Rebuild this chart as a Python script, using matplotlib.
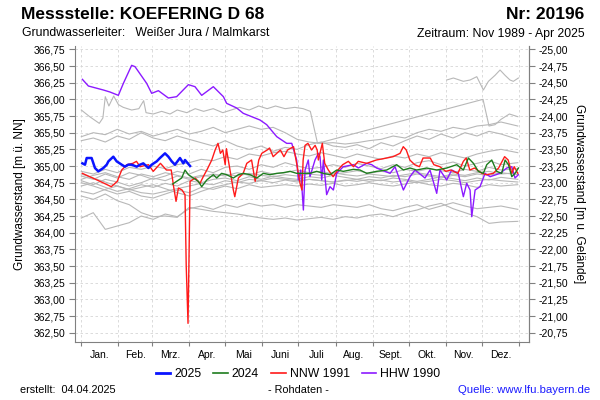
import matplotlib
matplotlib.use("Agg")
import matplotlib.pyplot as plt
from matplotlib.lines import Line2D
from matplotlib.ticker import FixedLocator, FuncFormatter

plt.rcParams['font.family'] = ['Liberation Sans', 'DejaVu Sans']

# ---------------- data ----------------
months = ["Jan.", "Feb.", "Mrz.", "Apr.", "Mai", "Juni", "Juli", "Aug.", "Sept.", "Okt.", "Nov.", "Dez."]
month_starts = [0, 31, 59, 90, 120, 151, 181, 212, 243, 273, 304, 334, 365]

y2025_days = [0.9, 3.1, 4.5, 8.6, 11.4, 14.2, 18.4, 21.2, 22.6, 26.7, 29.5, 33.7, 36.4, 39.2, 42.0,
              46.2, 49.0, 51.7, 56.0, 58.7, 62.9, 65.6, 69.8, 72.6, 75.4, 78.1, 82.3, 85.1, 86.5, 90.7]
y2025_vals = [365.04, 365.02, 365.12, 365.12, 364.97, 364.92, 364.97, 365.02, 365.07, 365.14, 365.07,
              365.02, 364.99, 365.02, 365.02, 364.99, 365.02, 365.04, 364.97, 365.02, 365.07, 365.12,
              365.19, 365.14, 365.07, 365.02, 365.12, 365.04, 365.09, 365.00]

y2024_days = [76.2, 79.5, 83.7, 86.5, 89.3, 93.4, 97.6, 100.4, 104.6, 110.1, 112.9, 117.0, 121.2, 126.8,
              131.0, 135.1, 140.7, 146.3, 151.8, 157.4, 163.0, 168.5, 174.1, 179.6, 182.4, 190.7, 196.3,
              201.9, 207.4, 213.0, 218.5, 226.9, 232.4, 238.0, 246.3, 254.7, 263.0, 268.6, 274.1, 279.7,
              288.0, 296.4, 304.7, 313.1, 318.6, 322.8, 327.0, 331.1, 335.3, 338.1, 342.3, 346.4, 350.6,
              353.4, 356.2, 359.0, 361.7, 364.5]
y2024_vals = [364.73, 364.77, 364.82, 364.94, 364.87, 364.82, 364.77, 364.69, 364.79, 364.87, 364.82,
              364.89, 364.87, 364.82, 364.87, 364.89, 364.87, 364.82, 364.89, 364.87, 364.89, 364.90,
              364.92, 364.89, 364.89, 364.89, 364.92, 364.89, 364.87, 364.94, 364.92, 364.95, 364.94,
              364.89, 364.92, 364.94, 365.02, 364.94, 364.97, 364.94, 364.97, 364.94, 364.97, 365.02,
              364.94, 365.12, 365.04, 364.92, 364.89, 365.02, 365.09, 364.92, 364.89, 365.09, 365.02,
              364.84, 364.89, 364.97]

nnw1991_days = [0.9, 7, 15.6, 25, 30, 33.7, 38, 43, 46, 49, 56, 60, 66, 71, 75, 77, 79, 81, 84, 86.5,
                87.5, 89, 89.8, 90.7, 95, 99, 101.7, 105, 108.8, 111.6, 114, 116, 118, 120, 121, 124,
                126.8, 128, 131, 135, 138, 142, 145, 148, 150.5, 155, 157, 160, 166, 169, 172, 177, 180,
                182.4, 184, 185, 186.6, 189, 192, 195, 196.7, 197.7, 201, 203, 206, 210, 214, 218, 222.7,
                227, 231, 238, 246, 254.7, 260, 265.8, 268.5, 271, 274, 278, 282, 285, 291, 294, 299,
                304, 308, 314, 318.6, 321, 324, 328, 334, 338, 343.6, 348, 353, 356, 359, 361, 364]
nnw1991_vals = [364.89, 364.84, 364.77, 364.69, 364.77, 364.94, 365.02, 365.04, 365.07, 364.99, 365.02,
                364.92, 365.04, 364.94, 364.94, 364.69, 364.47, 364.67, 364.64, 364.57, 363.50, 362.64,
                363.60, 364.77, 364.82, 364.74, 364.84, 364.95, 365.09, 365.24, 365.34, 365.19, 365.24,
                365.02, 365.26, 364.94, 364.64, 364.54, 364.82, 364.89, 365.04, 365.09, 364.77, 365.09,
                365.19, 365.24, 365.27, 365.14, 365.24, 365.14, 365.24, 365.29, 365.00, 364.74, 364.64,
                365.09, 365.31, 365.34, 365.24, 365.31, 365.24, 365.09, 365.34, 365.04, 364.94, 364.84,
                364.94, 365.02, 365.07, 364.99, 365.07, 365.04, 365.09, 365.12, 365.14, 365.19, 365.29,
                365.24, 365.09, 365.02, 364.99, 365.12, 365.12, 365.02, 364.99, 364.92, 364.94, 364.89,
                365.07, 365.12, 364.94, 364.97, 364.89, 364.87, 364.89, 364.97, 365.14, 365.09, 364.89,
                364.99, 364.89]

hhw1990_days = [0.9, 5.9, 18.4, 23.9, 30.9, 35.1, 42.0, 44.8, 54.5, 58.7, 64.3, 72.6, 79.5, 89.3, 94.8,
                100.4, 110.1, 118.5, 121.2, 129.6, 135.1, 142.1, 149.0, 154.6, 163.0, 171.3, 175.5, 179.6,
                181.0, 183.0, 185.2, 186.6, 189.3, 190.7, 194.9, 197.7, 199.1, 200.5, 201.9, 204.6, 207.4,
                210.2, 213.0, 218.5, 226.9, 231.0, 238.0, 242.2, 246.3, 257.5, 261.6, 268.6, 274.1, 278.3,
                286.6, 290.8, 296.4, 299.1, 304.7, 308.9, 314.4, 318.6, 321.4, 324.2, 325.6, 328.4, 332.5,
                336.7, 340.9, 349.2, 354.8, 359.0, 361.7, 364.5]
hhw1990_vals = [366.30, 366.20, 366.14, 366.11, 366.06, 366.24, 366.51, 366.49, 366.24, 366.09, 366.13,
                366.02, 366.04, 366.22, 366.19, 366.06, 366.19, 366.04, 365.94, 365.87, 365.79, 365.74,
                365.69, 365.62, 365.44, 365.34, 365.34, 365.09, 364.79, 364.94, 364.34, 364.94, 365.09,
                364.84, 365.09, 365.19, 365.14, 364.79, 365.09, 364.57, 364.69, 364.64, 364.89, 364.99,
                365.02, 364.97, 365.04, 365.02, 364.97, 364.89, 364.99, 364.64, 364.84, 364.94, 364.82,
                364.94, 364.59, 364.94, 364.79, 364.94, 364.89, 364.54, 364.74, 364.64, 364.24, 364.64,
                364.69, 364.89, 364.84, 364.89, 364.97, 364.99, 364.82, 364.87]

# other years (grey)
grid_days = [0, 10, 20, 30, 40, 50, 60, 70, 80, 90, 100, 110, 120, 130, 140, 150, 160, 170, 180, 190,
             200, 210, 220, 230, 240, 250, 260, 270, 280, 290, 300, 310, 320, 330, 340, 350, 364]

g_upper_days = [0, 7, 15, 18, 20, 23, 27, 31, 35, 42, 48, 52, 54, 60, 67, 74, 80, 88, 95, 102, 110, 118,
                125, 132, 140, 148, 155, 162, 170, 178, 185, 191, 197, 335, 340, 345, 350, 357, 364]
g_upper_vals = [365.84, 365.74, 365.64, 365.72, 366.04, 365.90, 366.05, 365.92, 365.88, 365.84, 365.86,
                365.98, 365.80, 365.78, 365.82, 365.78, 365.84, 365.80, 365.86, 365.82, 365.86, 365.80,
                365.84, 365.88, 365.84, 365.90, 365.86, 365.90, 365.86, 365.88, 365.86, 365.82, 365.34,
                366.00, 365.60, 365.62, 365.70, 365.78, 365.74]

g1989_days = [304.7, 310.3, 318.6, 324.2, 329.8, 335.3, 339.5, 345.0, 349.2, 353.4, 357.5, 360.3, 364.5]
g1989_vals = [366.29, 366.32, 366.27, 366.29, 366.34, 366.14, 366.27, 366.36, 366.44, 366.36, 366.29,
              366.27, 366.32]

g_a = [365.44, 365.50, 365.47, 365.55, 365.48, 365.52, 365.45, 365.50, 365.55, 365.48, 365.52, 365.58,
       365.50, 365.55, 365.60, 365.55, 365.58, 365.50, 365.40, 365.36, 365.34, 365.35, 365.33, 365.35,
       365.38, 365.40, 365.45, 365.42, 365.50, 365.55, 365.52, 365.58, 365.55, 365.60, 365.62, 365.66,
       365.60]
g_b = [365.38, 365.42, 365.36, 365.45, 365.40, 365.50, 365.42, 365.38, 365.45, 365.40, 365.35, 365.30,
       365.38, 365.30, 365.25, 365.30, 365.22, 365.28, 365.25, 365.32, 365.36, 365.30, 365.28, 365.32,
       365.26, 365.35, 365.30, 365.38, 365.45, 365.40, 365.48, 365.42, 365.50, 365.45, 365.52, 365.48,
       365.40]
g_c = [364.92, 364.88, 364.95, 364.90, 364.98, 364.95, 365.00, 364.96, 365.02, 365.05, 365.10, 365.08,
       365.14, 365.10, 365.18, 365.15, 365.20, 365.22, 365.18, 365.15, 365.20, 365.16, 365.12, 365.18,
       365.14, 365.10, 365.15, 365.12, 365.18, 365.14, 365.20, 365.16, 365.12, 365.18, 365.22, 365.25,
       365.20]
g_d = [364.85, 364.80, 364.88, 364.82, 364.90, 364.86, 364.80, 364.85, 364.92, 364.88, 364.95, 364.90,
       364.98, 365.00, 364.95, 365.02, 364.98, 365.05, 365.00, 364.96, 364.98, 365.02, 364.98, 365.04,
       365.00, 364.96, 365.02, 364.98, 365.05, 365.08, 365.02, 365.06, 365.00, 365.04, 365.08, 365.02,
       365.05]
g_e = [364.78, 364.72, 364.80, 364.76, 364.70, 364.75, 364.82, 364.78, 364.85, 364.80, 364.84, 364.88,
       364.85, 364.90, 364.86, 364.92, 364.88, 364.90, 364.94, 364.90, 364.92, 364.88, 364.90, 364.93,
       364.89, 364.92, 364.90, 364.95, 364.92, 364.96, 364.93, 364.90, 364.95, 364.92, 364.98, 364.94,
       364.96]
g_f = [364.70, 364.75, 364.68, 364.62, 364.66, 364.72, 364.68, 364.74, 364.70, 364.78, 364.75, 364.80,
       364.82, 364.78, 364.84, 364.80, 364.85, 364.82, 364.80, 364.84, 364.82, 364.86, 364.83, 364.80,
       364.84, 364.82, 364.86, 364.84, 364.88, 364.85, 364.82, 364.86, 364.84, 364.88, 364.86, 364.90,
       364.87]
g_g = [364.88, 364.82, 364.76, 364.70, 364.65, 364.60, 364.58, 364.62, 364.66, 364.70, 364.74, 364.72,
       364.78, 364.75, 364.80, 364.78, 364.82, 364.80, 364.78, 364.80, 364.78, 364.76, 364.78, 364.80,
       364.77, 364.79, 364.76, 364.78, 364.75, 364.77, 364.80, 364.78, 364.75, 364.78, 364.80, 364.78,
       364.76]
g_h = [364.62, 364.58, 364.65, 364.70, 364.64, 364.68, 364.72, 364.66, 364.60, 364.55, 364.62, 364.68,
       364.72, 364.76, 364.74, 364.78, 364.75, 364.79, 364.76, 364.80, 364.78, 364.76, 364.79, 364.77,
       364.80, 364.78, 364.82, 364.80, 364.77, 364.80, 364.84, 364.81, 364.78, 364.82, 364.79, 364.83,
       364.80]
g_i = [364.80, 364.86, 364.90, 364.84, 364.80, 364.88, 364.84, 364.90, 364.86, 364.82, 364.86, 364.84,
       364.88, 364.85, 364.89, 364.86, 364.84, 364.87, 364.85, 364.88, 364.86, 364.90, 364.87, 364.85,
       364.88, 364.86, 364.84, 364.87, 364.90, 364.87, 364.84, 364.88, 364.86, 364.90, 364.92, 364.88,
       364.90]
g_j = [364.75, 364.70, 364.64, 364.58, 364.62, 364.55, 364.52, 364.58, 364.64, 364.60, 364.68, 364.65,
       364.70, 364.66, 364.72, 364.68, 364.70, 364.72, 364.70, 364.73, 364.71, 364.74, 364.70, 364.72,
       364.75, 364.72, 364.70, 364.73, 364.76, 364.72, 364.70, 364.74, 364.72, 364.68, 364.72, 364.70,
       364.72]
g_k = [364.22, 364.30, 364.05, 364.10, 364.15, 364.25, 364.20, 364.28, 364.24, 364.36, 364.40, 364.35,
       364.42, 364.38, 364.44, 364.40, 364.42, 364.38, 364.42, 364.40, 364.38, 364.42, 364.40, 364.38,
       364.42, 364.36, 364.33, 364.38, 364.42, 364.35, 364.40, 364.45, 364.40, 364.36, 364.38, 364.40,
       364.35]
g_l = [364.55, 364.50, 364.58, 364.48, 364.42, 364.30, 364.24, 364.25, 364.23, 364.38, 364.35, 364.32,
       364.30, 364.28, 364.25, 364.22, 364.20, 364.22, 364.19, 364.21, 364.23, 364.20, 364.24, 364.22,
       364.26, 364.28, 364.24, 364.30, 364.34, 364.40, 364.44, 364.36, 364.30, 364.24, 364.14, 364.16,
       364.17]
grey_series = [g_a, g_b, g_c, g_d, g_e, g_f, g_g, g_h, g_i, g_j, g_k, g_l]

yticks_left = [362.50 + 0.25 * i for i in range(18)]

# ---------------- figure ----------------
W, H = 600, 400
fig = plt.figure(figsize=(6, 4), dpi=100)
ax = fig.add_axes([74.7 / W, 1 - 341.7 / H, (528.7 - 74.7) / W, (341.7 - 46) / H])

grey = '#b8b8b8'
for vals in grey_series:
    ax.plot(grid_days, vals, color=grey, lw=0.8, zorder=2)
ax.plot(g_upper_days, g_upper_vals, color=grey, lw=0.8, zorder=2)
ax.plot(g1989_days, g1989_vals, color=grey, lw=0.8, zorder=2)

c25, c24, cn, ch = '#0a14ff', '#1e7d1e', '#ff1a1a', '#8c1aff'
ax.plot(hhw1990_days, hhw1990_vals, color=ch, lw=1.0, zorder=3)
ax.plot(nnw1991_days, nnw1991_vals, color=cn, lw=1.0, zorder=4)
ax.plot(y2024_days, y2024_vals, color=c24, lw=1.0, zorder=5)
ax.plot(y2025_days, y2025_vals, color=c25, lw=1.8, zorder=6)

ax.set_xlim(-5.5, 373.1)
ax.set_ylim(362.365, 366.80)

ax.xaxis.set_major_locator(FixedLocator(month_starts))
ax.xaxis.set_minor_locator(FixedLocator([(month_starts[i] + month_starts[i + 1]) / 2 for i in range(12)]))
ax.set_xticklabels([''] * len(month_starts))
ax.set_xticklabels(months, minor=True)
ax.tick_params(axis='x', which='major', length=3, color='#808080', direction='out')
ax.tick_params(axis='x', which='minor', length=0, pad=6, labelsize=7.5)

ax.yaxis.set_major_locator(FixedLocator(yticks_left))
ax.yaxis.set_major_formatter(FuncFormatter(lambda v, p: f"{v:.2f}".replace('.', ',')))
ax.tick_params(axis='y', length=4, color='#808080', labelsize=7.5, pad=3)

ax.grid(True, which='major', color='#d6d6d6', linestyle=(0, (3, 3)), linewidth=0.6)
ax.set_axisbelow(True)

for s in ['left', 'bottom', 'right']:
    ax.spines[s].set_color('#808080')
ax.spines['top'].set_visible(False)

sec = ax.secondary_yaxis('right', functions=(lambda y: 341.75 - y, lambda r: 341.75 - r))
sec.yaxis.set_major_locator(FixedLocator([-25.0 + 0.25 * i for i in range(18)]))
sec.yaxis.set_major_formatter(FuncFormatter(lambda v, p: f"{v:.2f}".replace('.', ',')))
sec.tick_params(axis='y', length=4, color='#808080', labelsize=7.5, pad=3)
sec.spines['right'].set_color('#808080')
sec.set_ylabel('Grundwasserstand [m u. Gelände]', rotation=270, fontsize=8.5, labelpad=12)

ax.set_ylabel('Grundwasserstand [m ü. NN]', fontsize=8.5, labelpad=5)

def ft(x, y, s, **kw):
    fig.text(x / W, 1 - y / H, s, **kw)

ft(21, 19, 'Messstelle: KOEFERING D 68', fontsize=12.5, fontweight='bold', va='baseline', ha='left')
ft(584, 19, 'Nr: 20196', fontsize=12.5, fontweight='bold', va='baseline', ha='right')
ft(22, 36.5, 'Grundwasserleiter:   Weißer Jura / Malmkarst', fontsize=8.8, va='baseline', ha='left')
ft(585, 36.5, 'Zeitraum: Nov 1989 - Apr 2025', fontsize=8.8, va='baseline', ha='right')

ft(20, 393, 'erstellt:  04.04.2025', fontsize=7.8, va='baseline', ha='left')
ft(298, 393, '- Rohdaten -', fontsize=7.8, va='baseline', ha='center')
ft(590, 393, 'Quelle: www.lfu.bayern.de', fontsize=8.2, va='baseline', ha='right', color='#1a1aff')

handles = [Line2D([], [], color=c25, lw=2.0), Line2D([], [], color=c24, lw=1.2),
           Line2D([], [], color=cn, lw=1.2), Line2D([], [], color=ch, lw=1.2)]
labels = ['2025', '2024', 'NNW 1991', 'HHW 1990']
fig.legend(handles, labels, loc='center', bbox_to_anchor=(298 / W, 1 - 374 / H), ncol=4,
           frameon=False, fontsize=8.8, handlelength=1.2, handletextpad=0.3, columnspacing=1.0,
           borderpad=0.0)

fig.savefig('out.png', dpi=100)
